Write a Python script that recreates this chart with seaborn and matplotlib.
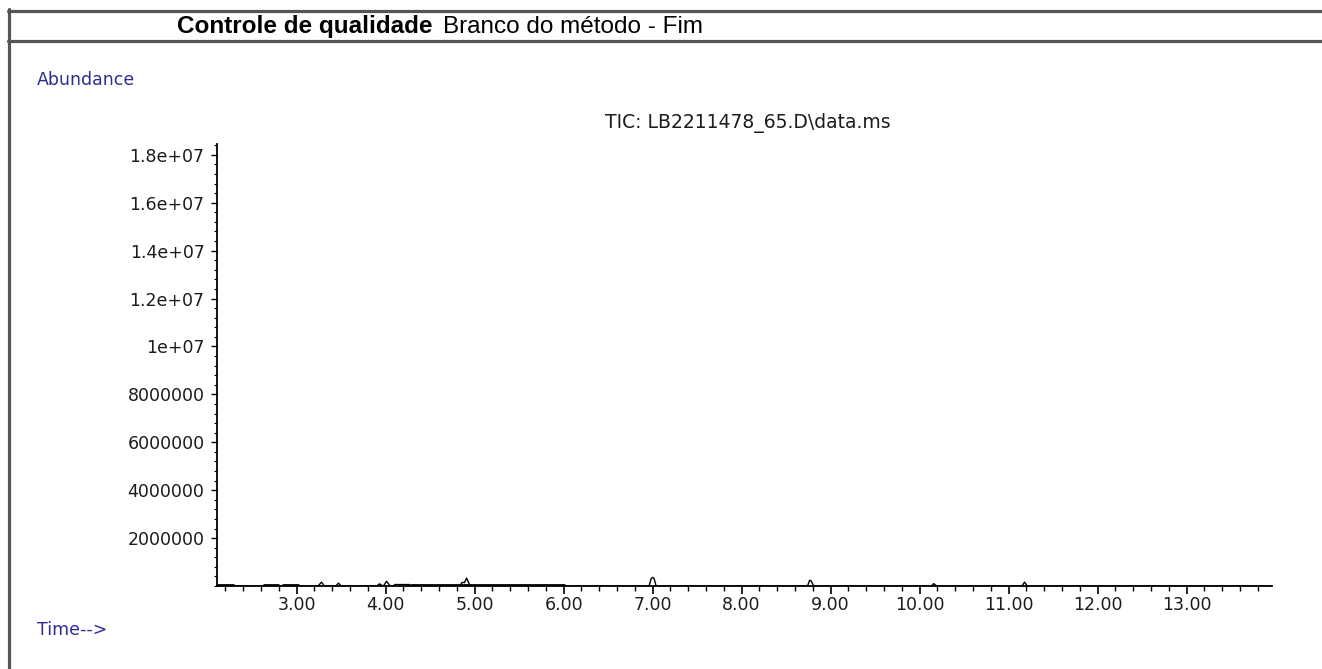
import numpy as np
import pandas as pd
import matplotlib.pyplot as plt
import seaborn as sns
from matplotlib.lines import Line2D
from matplotlib.ticker import FixedLocator, MultipleLocator

# TIC trace (time in min, abundance counts)
time_min = [2.105, 3.24, 3.28, 3.31, 3.44, 3.47, 3.50, 3.90, 3.93, 3.96,
            3.98, 4.01, 4.05, 4.095, 4.10, 4.27, 4.275, 4.83, 4.86, 4.885,
            4.91, 4.95, 6.96, 6.985, 7.00, 7.015, 7.04, 8.74, 8.765, 8.78,
            8.81, 10.13, 10.16, 10.19, 11.15, 11.18, 11.21, 13.96]
abundance = [0, 0, 1.6e5, 0, 0, 1.2e5, 0, 0, 0.9e5, 0.2e5,
             0.2e5, 2.0e5, 0, 0, 0.6e5, 0.6e5, 0, 0, 1.5e5, 1.4e5,
             3.3e5, 0, 0, 3.2e5, 3.6e5, 3.2e5, 0, 0, 2.4e5, 2.2e5,
             0, 0, 1.0e5, 0, 0, 1.6e5, 0, 0]

# stretches where the baseline noise makes the trace look thick
noise_start = [2.11, 2.62, 2.84, 4.27]
noise_end = [2.30, 2.80, 3.03, 6.02]

y_ticks = [2e6, 4e6, 6e6, 8e6, 1e7, 1.2e7, 1.4e7, 1.6e7, 1.8e7]
y_labels = ['2000000', '4000000', '6000000', '8000000', '1e+07',
            '1.2e+07', '1.4e+07', '1.6e+07', '1.8e+07']
x_ticks = [3, 4, 5, 6, 7, 8, 9, 10, 11, 12, 13]
x_labels = ['3.00', '4.00', '5.00', '6.00', '7.00', '8.00', '9.00',
            '10.00', '11.00', '12.00', '13.00']

tic = pd.DataFrame({'time': time_min, 'abundance': abundance})

sns.set_style('white')
plt.rcParams['font.family'] = ['DejaVu Sans']

fig = plt.figure(figsize=(13.22, 6.69), dpi=100)
ax = fig.add_axes([217 / 1322, 1 - 586 / 669, (1272 - 217) / 1322, (586 - 144) / 669])

sns.lineplot(data=tic, x='time', y='abundance', color='black', linewidth=1.0,
             estimator=None, sort=False, ax=ax)
ax.hlines([3e4] * len(noise_start), noise_start, noise_end, color='black', linewidth=2.0)

ax.set_xlim(2.105, 13.96)
ax.set_ylim(0, 1.845e7)

ax.xaxis.set_major_locator(FixedLocator(x_ticks))
ax.set_xticklabels(x_labels)
ax.xaxis.set_minor_locator(MultipleLocator(0.2))
ax.yaxis.set_major_locator(FixedLocator(y_ticks))
ax.set_yticklabels(y_labels)
ax.yaxis.set_minor_locator(MultipleLocator(4e5))

ax.tick_params(axis='x', which='major', direction='out', length=6, width=1.2,
               pad=1.5, labelsize=12.5, colors='black', labelcolor='#1c1c1c', bottom=True)
ax.tick_params(axis='x', which='minor', direction='out', length=3.5, width=1.0,
               colors='black', bottom=True)
ax.tick_params(axis='y', which='major', direction='out', length=4, width=1.0,
               pad=5, labelsize=12.5, colors='black', labelcolor='#1c1c1c', left=True)
ax.tick_params(axis='y', which='minor', direction='out', length=2.5, width=0.8,
               colors='black', left=True)

ax.set_xlabel('')
ax.set_ylabel('')
sns.despine(ax=ax)
for side in ['left', 'bottom']:
    ax.spines[side].set_color('black')
    ax.spines[side].set_linewidth(1.3)

# page texts
fig.text(37 / 1322, 1 - 80 / 669, 'Abundance', color='#2d2d96', fontsize=12.5, va='center')
fig.text(37 / 1322, 1 - 630 / 669, 'Time-->', color='#2d2d96', fontsize=12.5, va='center')
fig.text(748 / 1322, 1 - 123 / 669, 'TIC: LB2211478_65.D\\data.ms', color='#1c1c1c',
         fontsize=13.5, ha='center', va='center')

fig.text(177 / 1322, 1 - 33 / 669, 'Controle de qualidade', fontsize=17.5,
         fontweight='bold', family='Liberation Sans', va='baseline', color='black')
fig.text(443 / 1322, 1 - 33 / 669, 'Branco do método - Fim', fontsize=17.5,
         family='Liberation Sans', va='baseline', color='black')

# frame lines of the report page
frame = '#555555'
fig.add_artist(Line2D([8 / 1322, 1], [1 - 10.5 / 669] * 2, color=frame, lw=2.3))
fig.add_artist(Line2D([8 / 1322, 1], [1 - 40.5 / 669] * 2, color=frame, lw=2.3))
fig.add_artist(Line2D([9 / 1322] * 2, [0, 1 - 9 / 669], color=frame, lw=2.3))

fig.savefig('out.png', dpi=100)
